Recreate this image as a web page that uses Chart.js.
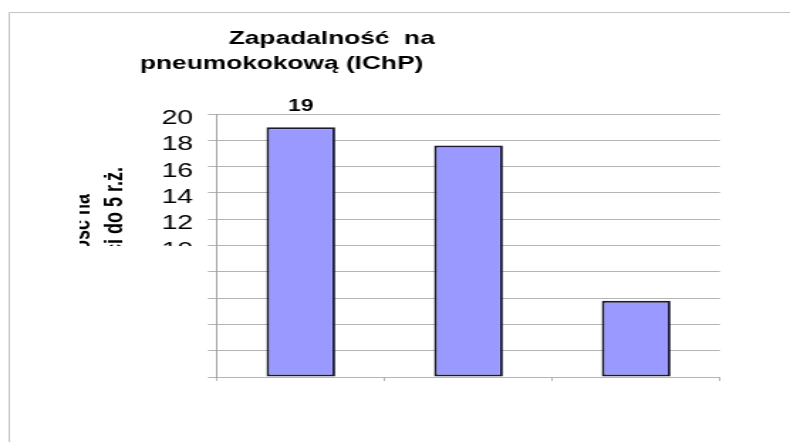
<!DOCTYPE html>
<html>
<head>
<meta charset="utf-8">
<script src="https://cdn.jsdelivr.net/npm/chart.js@4.4.1/dist/chart.umd.min.js"></script>
<style>
html, body { margin: 0; padding: 0; background: #fff; }
#wykres { display: block; }
</style>
</head>
<body>
<!-- obraz jest rozciagniety w poziomie jak w oryginale: 556 px rysowane na 790 px -->
<canvas id="wykres" width="556" height="442" style="width:790px;height:442px"></canvas>
<script>
var kategorie = ['A', 'B', 'C'];
var zapadalnosc = [19, 17.6, 5.8];
var etykietyWartosci = ['19', '', ''];
var tytul = ['Zapadalność  na', 'pneumokokową (IChP)'];
var tytulOsiY = ['Zapadalność na', '100 tys. dzieci do 5 r.ż.'];
var osY = { min: 0, max: 20, krok: 2 };

var czcionka = '"Liberation Sans", Arial, sans-serif';

var ramka = {
    id: 'ramka',
    beforeDraw: function(chart) {
        var ctx = chart.ctx;
        ctx.save();
        ctx.fillStyle = '#fff';
        ctx.fillRect(0, 0, chart.width, chart.height);
        ctx.strokeStyle = '#c4c4c4';
        ctx.lineWidth = 1;
        ctx.beginPath();
        ctx.moveTo(6.5, chart.height);
        ctx.lineTo(6.5, 12.5);
        ctx.lineTo(chart.width, 12.5);
        ctx.stroke();
        ctx.restore();
    }
};

var napisy = {
    id: 'napisy',
    afterDraw: function(chart) {
        var ctx = chart.ctx;
        ctx.save();
        ctx.fillStyle = '#000';
        ctx.textBaseline = 'alphabetic';

        // tytul
        ctx.font = 'bold 18.5px ' + czcionka;
        ctx.textAlign = 'left';
        ctx.fillText(tytul[0], 161, 44);
        ctx.fillText(tytul[1], 98.5, 69);

        // wartosci nad slupkami
        ctx.font = 'bold 16px ' + czcionka;
        ctx.textAlign = 'center';
        var meta = chart.getDatasetMeta(0);
        meta.data.forEach(function(bar, i) {
            if (etykietyWartosci[i]) {
                ctx.fillText(etykietyWartosci[i], bar.x, bar.y - 16);
            }
        });

        // tytul osi Y (przyciety)
        ctx.save();
        ctx.beginPath();
        ctx.rect(56, 0, 90, 246);
        ctx.clip();
        ctx.font = 'bold 18px ' + czcionka;
        ctx.textAlign = 'right';
        [[62.6, 194], [85.9, 167]].forEach(function(p, i) {
            ctx.save();
            ctx.translate(p[0], p[1]);
            ctx.rotate(-Math.PI / 2);
            ctx.fillText(tytulOsiY[i], 0, 0);
            ctx.restore();
        });
        ctx.restore();

        // zasloniety fragment po lewej
        ctx.fillStyle = '#fff';
        ctx.fillRect(7.5, 246, 136, chart.height - 246);
        ctx.restore();
    }
};

new Chart(document.getElementById('wykres'), {
    type: 'bar',
    data: {
        labels: kategorie,
        datasets: [{
            data: zapadalnosc,
            backgroundColor: '#9999ff',
            borderColor: '#1a1a33',
            borderWidth: 2,
            borderSkipped: false,
            barPercentage: 0.41,
            categoryPercentage: 1
        }]
    },
    options: {
        responsive: false,
        animation: false,
        devicePixelRatio: 1,
        layout: { padding: { top: 114, right: 49.3, left: 0, bottom: 0 } },
        plugins: {
            legend: { display: false },
            title: { display: false },
            tooltip: { enabled: false }
        },
        scales: {
            x: {
                offset: true,
                ticks: { display: false },
                grid: { offset: true, drawOnChartArea: false, tickLength: 4, color: '#b4b4b4' },
                border: { color: '#b4b4b4' },
                afterFit: function(s) { s.height = 65; }
            },
            y: {
                min: osY.min,
                max: osY.max,
                ticks: {
                    stepSize: osY.krok,
                    autoSkip: false,
                    padding: 10.5,
                    labelOffset: 4.5,
                    color: '#000',
                    font: { family: czcionka, size: 20 }
                },
                grid: { color: '#b4b4b4', tickLength: 6.3 },
                border: { color: '#a0a0a0' },
                afterFit: function(s) { s.width = 152.7; }
            }
        }
    },
    plugins: [ramka, napisy]
});
</script>
</body>
</html>
